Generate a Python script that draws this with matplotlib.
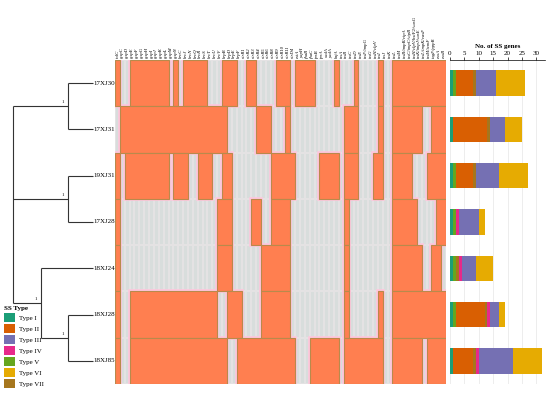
import numpy as np
import matplotlib
matplotlib.use('Agg')
import matplotlib.pyplot as plt
from matplotlib.colors import ListedColormap
from matplotlib.patches import Rectangle, Patch

plt.rcParams['font.family'] = ['Liberation Serif', 'DejaVu Serif']

##========================================
# Data
##========================================
strains = ['17XJ30', '17XJ31', '19XJ31', '17XJ28', '18XJ24', '18XJ28', '18XJ85']

genes = ['tolC',
         'gspC', 'gspD', 'gspE', 'gspF', 'gspG', 'gspH', 'gspI', 'gspJ', 'gspK', 'gspL', 'gspM', 'gspN',
         'hrcC', 'hrcJ', 'hrcN', 'hrcQ', 'hrcR', 'hrcS', 'hrcT', 'hrcU', 'hrcV', 'hrpB', 'hrpD', 'hrpE', 'hrpF',
         'virB1', 'virB2', 'virB3', 'virB4', 'virB5', 'virB6', 'virB8', 'virB9', 'virB10', 'virB11', 'virD4',
         'estA', 'yapH', 'fhaB', 'fhaC', 'tpsB', 'tpsA', 'xadA', 'yadA', 'hsfA',
         'tssA', 'tssB', 'tssC', 'tssD', 'tssE', 'tssF/impG', 'tssG', 'tssH/clpV', 'tssI', 'tssJ', 'tssK',
         'tssL', 'tssM', 'tssB/impB/vipA', 'tssC/impC/vipB', 'tssH/clpV/hsiF2/vasG', 'tssK/impJ/vasE',
         'tssL/impK/vasF', 'tssM/icmF', 'tagF/pppB', 'esxA', 'esxB']

# runs of present genes (first, last column) for each strain
present = [
    [(0, 0), (3, 10), (12, 12), (14, 18), (22, 24), (27, 28), (33, 35), (37, 40), (45, 45), (49, 49), (54, 54), (57, 67)],
    [(1, 22), (29, 31), (35, 35), (47, 49), (54, 54), (57, 62), (65, 67)],
    [(0, 0), (2, 10), (12, 14), (17, 19), (22, 23), (32, 36), (42, 45), (47, 49), (53, 54), (57, 60), (64, 67)],
    [(0, 0), (21, 23), (28, 29), (32, 35), (47, 47), (57, 61), (66, 67)],
    [(0, 0), (21, 23), (30, 35), (47, 47), (57, 62), (65, 66)],
    [(0, 0), (3, 20), (23, 25), (30, 35), (47, 47), (54, 54), (57, 67)],
    [(0, 0), (3, 22), (25, 36), (40, 45), (47, 54), (57, 62), (64, 67)],
]

# tree: internal node depth, children, support
node_depth = {'R': 0, 'A': 2, 'B': 2, 'D': 1, 'E': 2}
children = {'R': ['A', 'B', 'D'],
            'A': ['17XJ30', '17XJ31'],
            'B': ['19XJ31', '17XJ28'],
            'D': ['18XJ24', 'E'],
            'E': ['18XJ28', '18XJ85']}
support = {'A': 1, 'B': 1, 'D': 1, 'E': 1}
leaf_depth = 2.9

# secretion system gene counts per strain
ss_types = ['Type I', 'Type II', 'Type III', 'Type IV', 'Type V', 'Type VI', 'Type VII']
ss_colors = ['#1b9e77', '#d95f02', '#7570b3', '#e7298a', '#66a61e', '#e6ab02', '#a6761d']
type_I = [1, 1, 1, 1, 1, 1, 1]
type_II = [6, 12, 6, 0, 0, 10, 7]
type_III = [7, 5, 8, 7, 5, 3, 12]
type_IV = [0, 0, 0, 1, 1, 1, 1]
type_V = [1, 0, 1, 1, 1, 1, 0]
type_VI = [10, 6, 10, 2, 6, 2, 10]
type_VII = [1, 1, 1, 0, 1, 1, 1]

##========================================
# Figure
##========================================
fig = plt.figure(figsize=(5.5, 3.95), dpi=100)
W, H = 550., 395.
bot, hgt = 11 / H, 324 / H

n_s, n_g = len(strains), len(genes)
mat = np.zeros((n_s, n_g))
for i, runs in enumerate(present):
    for a, b in runs:
        mat[i, a:b + 1] = 1

# ---- heatmap
ax = fig.add_axes([115 / W, bot, 331 / W, hgt])
cmap = ListedColormap(['#d8dddc', '#ff7f50'])
ax.pcolormesh(mat, cmap=cmap, vmin=0, vmax=1, edgecolors='#e4e2e3', linewidth=0.2)
for i, runs in enumerate(present):
    for a, b in runs:
        ax.add_patch(Rectangle((a, i), b - a + 1, 1, facecolor='none',
                               edgecolor='#ffc6dc', lw=2.6, zorder=3))
for i, runs in enumerate(present):
    for a, b in runs:
        ax.add_patch(Rectangle((a, i), b - a + 1, 1, facecolor='#ff7f50',
                               edgecolor='#b88a4c', lw=0.8, zorder=4))
ax.set_xlim(0, n_g)
ax.set_ylim(n_s, 0)
ax.xaxis.tick_top()
ax.set_xticks(np.arange(n_g) + 0.5)
ax.set_xticklabels(genes, rotation=90, fontsize=3.4, style='italic')
ax.tick_params(axis='x', length=0, pad=1.5)
ax.set_yticks([])
for s in ax.spines.values():
    s.set_visible(False)

# ---- tree
tx = fig.add_axes([0, bot, 115 / W, hgt])
tx.set_xlim(-0.473, 3.709)
tx.set_ylim(n_s, 0)
tx.axis('off')


def draw(node):
    if node in strains:
        return leaf_depth, strains.index(node) + 0.5
    x = node_depth[node]
    pts = [draw(c) for c in children[node]]
    ys = [p[1] for p in pts]
    tx.plot([x, x], [min(ys), max(ys)], color='#333333', lw=0.8, solid_capstyle='butt')
    for cx, cy in pts:
        tx.plot([x, cx], [cy, cy], color='#333333', lw=0.8, solid_capstyle='butt')
    y = (min(ys) + max(ys)) / 2
    if node in support:
        tx.text(x - 0.18, y - 0.04, str(support[node]), fontsize=3.5, ha='center', va='bottom')
    return x, y


draw('R')
for i, s in enumerate(strains):
    tx.text(leaf_depth + 0.04, i + 0.5, s, fontsize=5, ha='left', va='center')

# ---- legend
handles = [Patch(facecolor=c, edgecolor='none') for c in ss_colors]
leg = fig.legend(handles, ss_types, loc='upper left', bbox_to_anchor=(0.0, 1 - 302 / H),
                 title='SS Type', frameon=False, fontsize=5, handlelength=1.6, handleheight=1.6,
                 labelspacing=0.3, handletextpad=0.6, borderaxespad=0.2, alignment='left',
                 title_fontproperties={'weight': 'bold', 'size': 5})

# ---- stacked bars
bx = fig.add_axes([450 / W, bot, 95 / W, hgt])
order = [0, 4, 1, 6, 3, 2, 5]
counts = [type_I, type_II, type_III, type_IV, type_V, type_VI, type_VII]
y = np.arange(n_s) + 0.5
left = np.zeros(n_s)
for k in order:
    vals = np.array(counts[k])
    bx.barh(y, vals, left=left, height=0.55, color=ss_colors[k], edgecolor='none')
    left += vals
bx.set_xlim(0, 33)
bx.set_ylim(n_s, 0)
bx.xaxis.tick_top()
bx.xaxis.set_label_position('top')
bx.set_xticks([0, 5, 10, 15, 20, 25, 30])
bx.tick_params(axis='x', labelsize=5, length=2, width=0.5, pad=1)
bx.set_xlabel('No. of SS genes', fontsize=5, fontweight='bold', labelpad=2)
bx.set_yticks([])
bx.grid(axis='x', color='#e6e6e6', lw=0.5)
bx.set_axisbelow(True)
for k in ['left', 'right', 'bottom']:
    bx.spines[k].set_visible(False)
bx.spines['top'].set_linewidth(0.5)

plt.savefig('out.png', dpi=100)
